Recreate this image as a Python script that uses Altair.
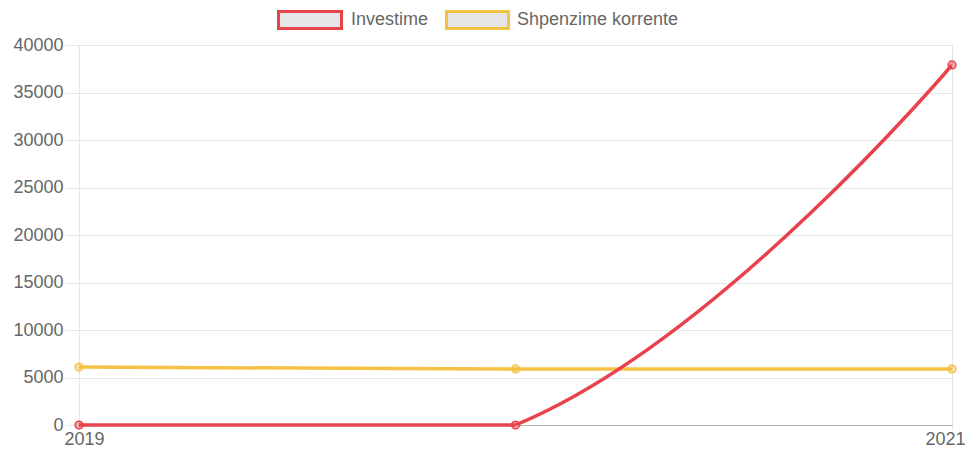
import altair as alt
import pandas as pd

years = [2019, 2020, 2021]
series_names = ["Investime", "Shpenzime korrente"]
investime = [0, 0, 37900]
shpenzime = [6100, 5900, 5900]
colors = ["#e8434d", "#f5c245"]
y_ticks = [0, 5000, 10000, 15000, 20000, 25000, 30000, 35000, 40000]

rows = []
for name, vals in zip(series_names, [investime, shpenzime]):
    for yr, v in zip(years, vals):
        rows.append({"year": yr, "series": name, "value": v})
df = pd.DataFrame(rows)

color_scale = alt.Scale(domain=series_names, range=colors)
FONT = "Liberation Sans"

x_enc = alt.X("year:Q",
              scale=alt.Scale(domain=[2019, 2021], nice=False, zero=False),
              axis=alt.Axis(values=years, format="d", title=None,
                            labelFontSize=18, labelColor="#666", labelFont=FONT,
                            tickSize=5, tickColor="#e6e6e6", labelPadding=0,
                            labelOffset={"condition": [
                                {"test": "datum.value == 2021", "value": -7},
                                {"test": "datum.value == 2019", "value": 5}], "value": 0},
                            gridColor="#e6e6e6", domainColor="#b3b3b3", domainWidth=1,
                            labelFlush=False))
y_enc = alt.Y("value:Q",
              scale=alt.Scale(domain=[0, 40000], nice=False),
              axis=alt.Axis(values=y_ticks, format="d", title=None,
                            labelFontSize=18, labelColor="#666", labelFont=FONT,
                            tickSize=14, tickColor="#e6e6e6", labelPadding=2,
                            gridColor="#e6e6e6", domainColor="#e6e6e6",
                            labelFlush=False))

base = alt.Chart(df)

yellow = base.transform_filter(alt.datum.series == series_names[1]).mark_line(
    interpolate="cardinal", tension=-0.4, strokeWidth=3.5, clip=True).encode(
    x=x_enc, y=y_enc,
    color=alt.Color("series:N", scale=color_scale, legend=None),
)

red_curve = base.transform_filter(alt.datum.series == series_names[0]).mark_line(
    interpolate="cardinal", tension=-0.4, strokeWidth=3.5, clip=True).encode(
    x="year:Q", y="value:Q",
    color=alt.Color("series:N", scale=color_scale, legend=None),
)

red_flat = base.transform_filter(
    (alt.datum.series == series_names[0]) & (alt.datum.year <= 2020)
).mark_line(strokeWidth=3.5).encode(
    x="year:Q", y="value:Q",
    color=alt.Color("series:N", scale=color_scale, legend=None),
)

points = base.mark_point(filled=True, size=60, fillOpacity=0.45,
                         strokeWidth=1.5, opacity=1).encode(
    x="year:Q", y="value:Q",
    fill=alt.Fill("series:N", scale=color_scale, legend=None),
    stroke=alt.Stroke("series:N", scale=color_scale, legend=None),
)

# manual legend (Chart.js style boxes)
legend_layers = []
box_x = [(199.5, 262.5), (367.5, 429.5)]
text_x = [272, 438]
for name, col, (bx0, bx1), tx in zip(series_names, colors, box_x, text_x):
    ldf = pd.DataFrame({"label": [name]})
    legend_layers.append(
        alt.Chart(ldf).mark_rect(fill="#e5e5e8", stroke=col, strokeWidth=3).encode(
            x=alt.value(bx0), x2=alt.value(bx1), y=alt.value(-33.5), y2=alt.value(-16.5))
    )
    legend_layers.append(
        alt.Chart(ldf).mark_text(align="left", baseline="middle", font=FONT,
                                 fontSize=18, color="#666").encode(
            x=alt.value(tx), y=alt.value(-25), text="label:N")
    )

chart = alt.layer(yellow, red_curve, red_flat, points, *legend_layers).properties(
    width=873, height=380,
    autosize=alt.AutoSizeParams(type="none"),
    padding={"left": 71, "top": 37, "right": 14, "bottom": 23},
).configure_view(stroke=None).configure_axis(gridWidth=1)

chart.save("out.html", embed_options={"renderer": "svg", "actions": False})
